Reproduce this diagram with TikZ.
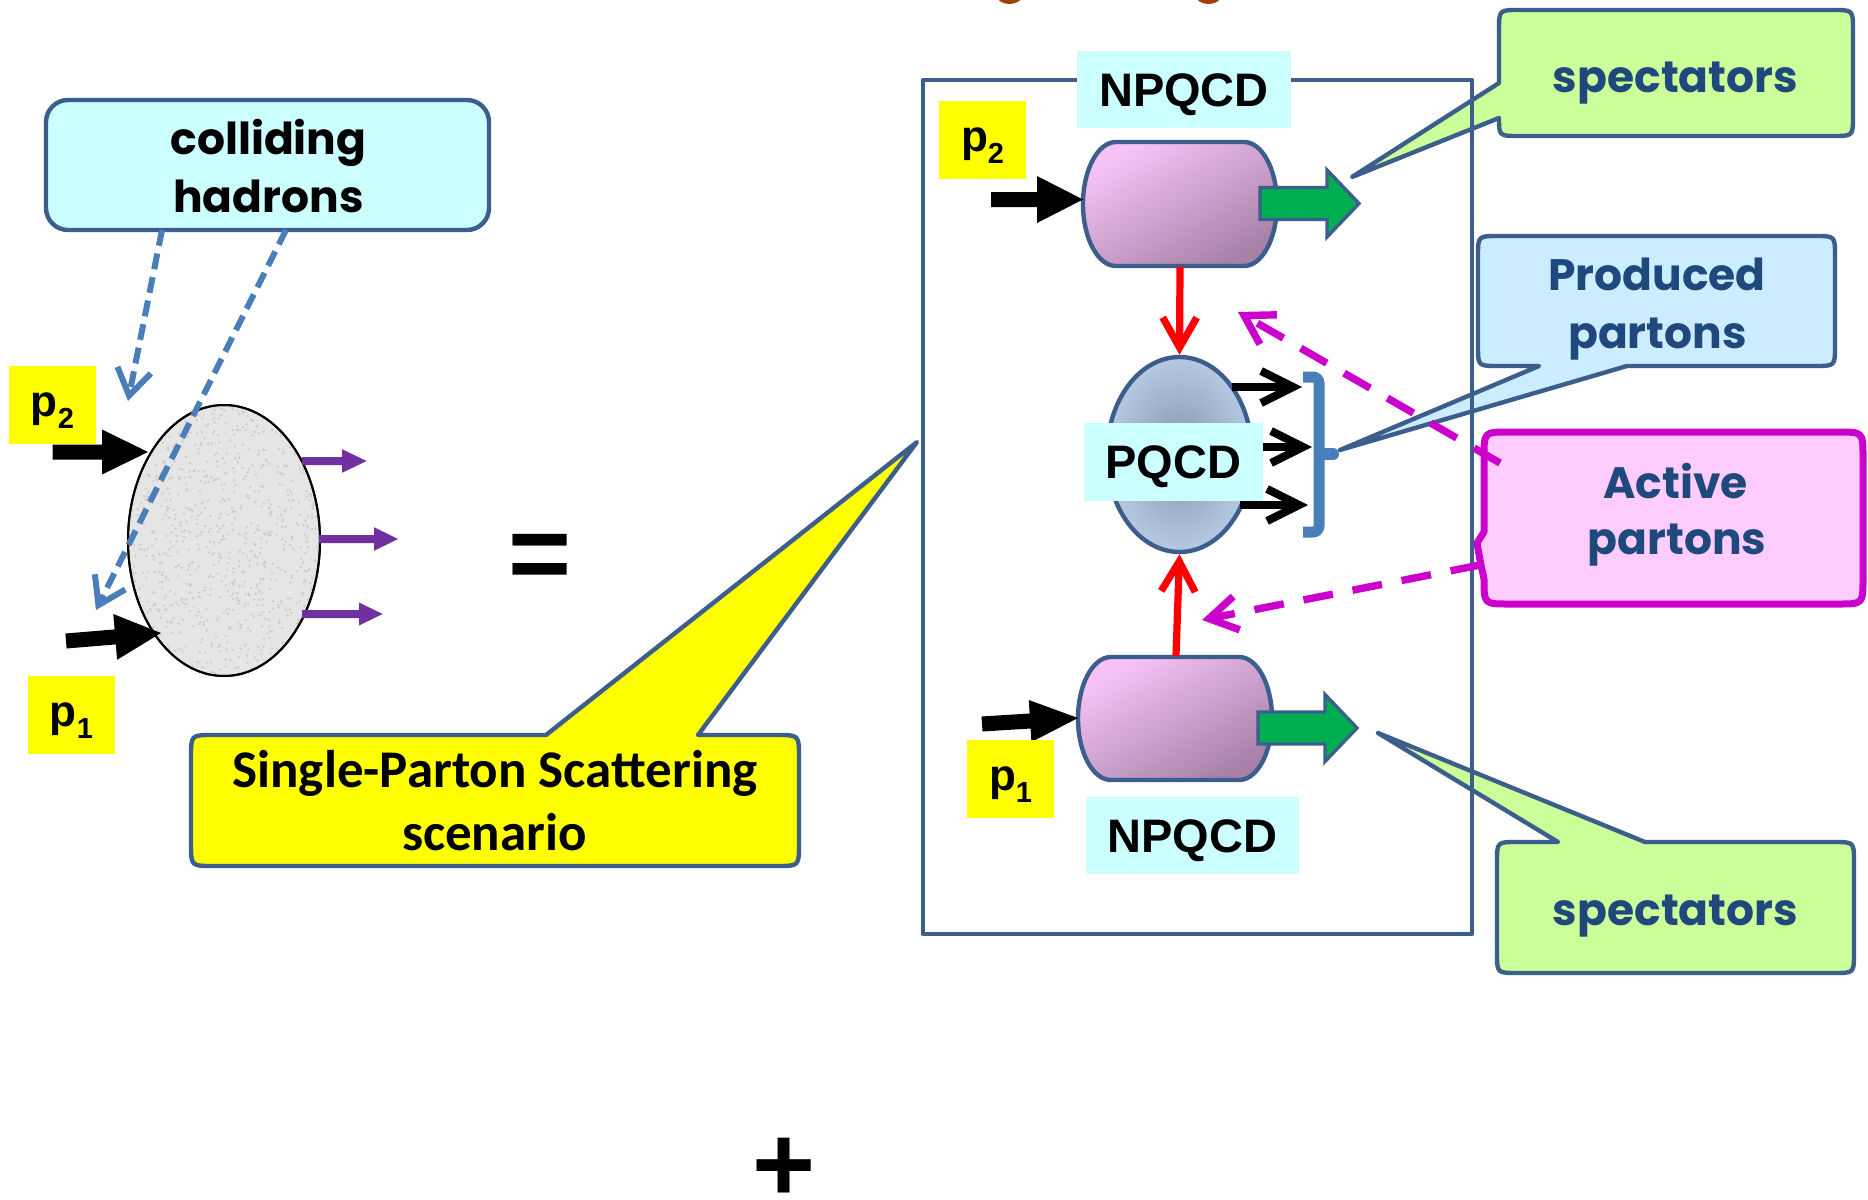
\documentclass[tikz,border=0pt]{standalone}
\usepackage{fontspec}
\newfontfamily\gothic{Poppins}
\newfontfamily\arialf{Liberation Sans}
\newfontfamily\calibf{Carlito}
\usetikzlibrary{arrows.meta,shapes.geometric}
\definecolor{edgeblue}{HTML}{3B5E8C}
\definecolor{dashblue}{HTML}{4A7EBB}
\definecolor{cyanfill}{HTML}{CCFFFF}
\definecolor{textblue}{HTML}{1F497D}
\definecolor{greenfill}{HTML}{CCFF99}
\definecolor{lightblue}{HTML}{CCECFF}
\definecolor{actmag}{HTML}{CC00CC}
\definecolor{pinkfill}{HTML}{FFCCFF}
\definecolor{yel}{HTML}{FFFF00}
\definecolor{purp}{HTML}{7030A0}
\definecolor{arrgreen}{HTML}{00B050}
\definecolor{capA}{HTML}{F7C3F7}
\definecolor{capB}{HTML}{A781A7}
\definecolor{pqIn}{HTML}{8393AD}
\definecolor{pqOut}{HTML}{B6C9E3}
\definecolor{brownt}{HTML}{A33F00}
\definecolor{redarr}{HTML}{FF0000}
\newcommand\hblk[6]{(#1,{#3-#4}) -- ({#2-#6},{#3-#4}) -- ({#2-#6},{#3-#5}) -- (#2,#3) -- ({#2-#6},{#3+#5}) -- ({#2-#6},{#3+#4}) -- (#1,{#3+#4}) -- cycle}
\newcommand\psub[1]{p\raisebox{-6pt}{\fontsize{14.5}{14.5}\selectfont #1}}
\begin{document}
\begin{tikzpicture}[x=0.5pt,y=-0.5pt,line join=round,
  edge/.style={draw=edgeblue, line width=2.2pt},
  gt/.style={font=\gothic\bfseries\fontsize{22}{26}\selectfont, inner sep=0pt, anchor=base},
  gtb/.style={gt, text=textblue},
  ct/.style={font=\calibf\bfseries\fontsize{26.5}{32}\selectfont, inner sep=0pt, anchor=base},
  qlbl/.style={fill=cyanfill, inner sep=0pt, font=\arialf\bfseries\fontsize{23.5}{28}\selectfont, text height=16.8pt, text depth=0pt},
  plbl/.style={fill=yel, inner sep=0pt, minimum width=43.5pt, minimum height=39pt, font=\arialf\bfseries\fontsize{22}{26}\selectfont, text height=11.5pt, text depth=0pt},
  dashb/.style={dashblue, line width=3pt, dash pattern=on 8pt off 4pt, -{Straight Barb[length=13pt,width=17pt]}},
  dashm/.style={actmag, line width=3.7pt, dash pattern=on 15pt off 10pt, -{Straight Barb[length=14pt,width=17pt]}},
  redc/.style={redarr, line width=3.6pt, -{Straight Barb[length=15pt,width=17pt]}},
  blkc/.style={black, line width=4pt, -{Straight Barb[length=16pt,width=16pt]}},
  greenarr/.style={draw=edgeblue, line width=1.7pt, fill=arrgreen, line join=miter},
  capsule/.style={edge, top color=capA, bottom color=capB, shading angle=30},
  bigsym/.style={font=\arialf\bfseries\fontsize{54}{60}\selectfont, inner sep=0pt}
  ]
\fill[white] (0,0) rectangle (1868,1199);
\useasboundingbox (0,0) rectangle (1868,1199);

% fragments of a cut-off title
\fill[brownt] (1009.5,-5) ellipse [x radius=13, y radius=9];
\fill[brownt] (1208.5,-5) ellipse [x radius=13, y radius=9];

% ---------- left part ----------
\node[ellipse, draw=black, line width=1pt, fill=black!10, minimum width=96pt, minimum height=135.5pt, inner sep=0pt] (hadron) at (224,540.5) {};
\begin{scope}
\clip (224,540.5) ellipse [x radius=95, y radius=134.5];
\pgfmathsetseed{7}
\foreach \i in {1,...,900}{\fill[black!20] ({224+95*rand},{540.5+134.5*rand}) circle[radius=1.3];}
\end{scope}
\draw[black, line width=1pt] (hadron.center) ellipse [x radius=96, y radius=135.5];

\fill[purp] \hblk{302}{366.6}{461}{4}{11.8}{24.6};
\fill[purp] \hblk{319}{398}{539}{4}{11.8}{24};
\fill[purp] \hblk{302}{382.6}{614}{4}{11.5}{23.6};

\fill[black] \hblk{52.5}{148}{452}{7.5}{22.5}{46};
\fill[black] (65.4,633.5) -- (114.6,629.4) -- (113.3,614.0) -- (161,633) -- (117.1,659.8) -- (115.8,644.4) -- (66.6,648.5) -- cycle;

\node[plbl] (p2l) at (52.5,405) {\psub{2}};
\node[plbl] (p1l) at (71.5,714.5) {\psub{1}};

\draw[edge, fill=cyanfill, rounded corners=11pt] (46,100) rectangle (489,230);
\node[gt] (ch1) at (268.5,154) {colliding};
\node[gt] (ch2) at (268.5,212) {hadrons};

\coordinate (d1s) at (162,230); \coordinate (d1e) at (128,401);
\coordinate (d2s) at (286,230); \coordinate (d2e) at (96,610);
\draw[dashb] (d1s) -- (d1e);
\draw[dashb] (d2s) -- (d2e);

\node[bigsym] (eq) at (540,562.5) {=};
\node[bigsym] (plus) at (784.5,1170) {+};

% SPS callout
\draw[edge, fill=yel] (191,757) .. controls (191,735) .. (213,735) -- (546,735) -- (917,442) -- (698,735) -- (777,735) .. controls (799,735) .. (799,757) -- (799,844) .. controls (799,866) .. (777,866) -- (213,866) .. controls (191,866) .. (191,844) -- cycle;
\node[ct] (sps1) at (495,787) {Single-Parton Scattering};
\node[ct] (sps2) at (494.5,850) {scenario};

% ---------- right callouts ----------
\draw[edge, fill=greenfill] (1499,60) -- (1499,30) .. controls (1499,10) .. (1519,10) -- (1833,10) .. controls (1853,10) .. (1853,30) -- (1853,116) .. controls (1853,136) .. (1833,136) -- (1519,136) .. controls (1499,136) .. (1499,118) -- (1352,177) -- (1499,83) -- cycle;
\node[gtb] (spec1) at (1675.5,92) {spectators};

\draw[edge, fill=lightblue] (1478,300) -- (1478,256) .. controls (1478,236) .. (1498,236) -- (1815,236) .. controls (1835,236) .. (1835,256) -- (1835,346) .. controls (1835,366) .. (1815,366) -- (1627,366) -- (1340,450) -- (1539,366) -- (1498,366) .. controls (1478,366) .. (1478,346) -- cycle;
\node[gtb] (prod1) at (1657,290) {Produced};
\node[gtb] (prod2) at (1657.5,348) {partons};

\draw[edge, fill=greenfill] (1497,900) -- (1497,862) .. controls (1497,842) .. (1517,842) -- (1558,842) -- (1378,733) -- (1645,842) -- (1834,842) .. controls (1854,842) .. (1854,862) -- (1854,953) .. controls (1854,973) .. (1834,973) -- (1517,973) .. controls (1497,973) .. (1497,953) -- cycle;
\node[gtb] (spec2) at (1675.5,925) {spectators};

\draw[actmag, line width=3.5pt, fill=pinkfill] (1484,500) -- (1484,457) .. controls (1484,432) .. (1509,432) -- (1838,432) .. controls (1863,432) .. (1863,457) -- (1863,579) .. controls (1863,604) .. (1838,604) -- (1509,604) .. controls (1484,604) .. (1484,579) -- (1480,560) -- (1477,543) -- (1484,532) -- cycle;
\node[gtb] (act1) at (1675.5,498) {Active};
\node[gtb] (act2) at (1677,554) {partons};

% ---------- main frame ----------
\draw[edge] (923,80) rectangle (1472,934);
\node[qlbl, minimum width=107pt, minimum height=38.5pt] (nptop) at (1184,89.5) {NPQCD};
\node[qlbl, minimum width=106.5pt, minimum height=38.5pt] (npbot) at (1192.5,835.5) {NPQCD};

% capsules
\draw[capsule] (1116,142) -- (1244,142) .. controls (1262.2,142) and (1277,169.8) .. (1277,204) .. controls (1277,238.2) and (1262.2,266) .. (1244,266) -- (1116,266) .. controls (1097.8,266) and (1083,238.2) .. (1083,204) .. controls (1083,169.8) and (1097.8,142) .. (1116,142) -- cycle;
\draw[capsule] (1111,657) -- (1239,657) .. controls (1257.2,657) and (1272,684.5) .. (1272,718.5) .. controls (1272,752.5) and (1257.2,780) .. (1239,780) -- (1111,780) .. controls (1092.8,780) and (1078,752.5) .. (1078,718.5) .. controls (1078,684.5) and (1092.8,657) .. (1111,657) -- cycle;
\coordinate (captop) at (1180,267);
\coordinate (capbot) at (1176,656);

\filldraw[greenarr] \hblk{1260}{1359}{203.5}{16}{33.5}{32};
\filldraw[greenarr] \hblk{1258}{1357}{728}{16}{33.5}{32};

% incoming momenta
\fill[black] \hblk{991}{1083}{199.5}{7.5}{23.5}{46};
\fill[black] (981.5,716.5) -- (1029.6,713.5) -- (1028.8,700.0) -- (1078,718) -- (1031.4,742.0) -- (1030.6,728.5) -- (982.5,731.5) -- cycle;
\node[plbl] (p2r) at (982.5,140) {\psub{2}};
\node[plbl] (p1r) at (1010.5,779) {\psub{1}};

% PQCD blob
\node[ellipse, draw=edgeblue, line width=2.2pt, inner color=pqIn, outer color=pqOut, minimum width=72.5pt, minimum height=97.5pt, inner sep=0pt] (pq) at (1179.5,454.5) {};
\draw[redc] (captop) -- (pq.north);
\draw[redc] (capbot) -- (pq.south);
\node[qlbl, minimum width=89.5pt, minimum height=39pt] (pqlbl) at (1173.5,462) {PQCD};

% produced partons
\coordinate (o1s) at (1232,387); \coordinate (o1e) at (1302,387);
\coordinate (o2s) at (1263,447); \coordinate (o2e) at (1312,447);
\coordinate (o3s) at (1240,505); \coordinate (o3e) at (1308,505);
\draw[blkc] (o1s) -- (o1e);
\draw[blkc] (o2s) -- (o2e);
\draw[blkc] (o3s) -- (o3e);

% bracket
\draw[dashblue, line width=5.5pt, rounded corners=3pt] (1303,377) -- (1319,377) -- (1319,532) -- (1303,532);
\fill[dashblue] (1319,448) rectangle (1333,460);
\fill[dashblue] (1333,454) circle[radius=6];

% active-parton pointers
\coordinate (m1s) at (1500,463); \coordinate (m1e) at (1238,312);
\coordinate (m2s) at (1480,565); \coordinate (m2e) at (1202,620);
\draw[dashm] (m1s) -- (m1e);
\draw[dashm] (m2s) -- (m2e);
\end{tikzpicture}
\end{document}
